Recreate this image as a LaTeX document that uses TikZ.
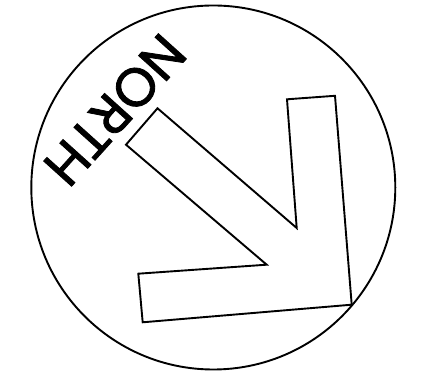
\documentclass[tikz,border=0pt]{standalone}
\usepackage{fontspec}
\newfontfamily\northfont[FakeBold=1.6]{Poppins}
\begin{document}
\begin{tikzpicture}[x=1pt,y=1pt,
  outline/.style={draw=black, line width=1.9pt, line join=miter},
  northlabel/.style={rotate=228, inner sep=0pt, font=\northfont\fontsize{54}{54}\selectfont}]
\useasboundingbox (0,0) rectangle (447,374);
\node[outline, circle, minimum size=364pt, inner sep=0pt] (dial) at (213.3,186.5) {};
\draw[outline] (157.5,265.7) -- (126,229.3) -- (266.7,109.3) -- (138.3,100.3)
  -- (142.7,51.7) -- (351.7,69.3) -- (335,278.2) -- (287,274.7) -- (296.7,146) -- cycle;
\node[northlabel] (label) at (115,264) {NORTH};
\end{tikzpicture}
\end{document}
